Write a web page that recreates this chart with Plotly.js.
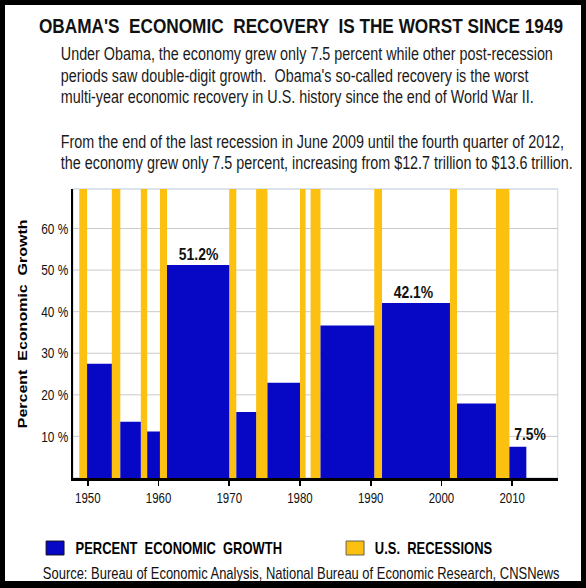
<!DOCTYPE html>
<html>
<head>
<meta charset="utf-8">
<script src="https://cdn.plot.ly/plotly-3.0.1.min.js"></script>
<style>
  html, body { margin: 0; padding: 0; background: #000; width: 586px; height: 588px; overflow: hidden; }
  #wrap { position: absolute; left: 5px; top: 5px; width: 576px; height: 576px; background: #fff; overflow: hidden; }
  #chart { position: absolute; left: 0; top: 0; transform-origin: 0 0; }
</style>
</head>
<body>
<div id="wrap"><div id="chart"></div></div>
<script>
// ---- data ----
const growthStart = [1949.9, 1954.6, 1958.4, 1961.2, 1971.0, 1975.4, 1982.9, 1991.6, 2002.2, 2009.6];
const growthEnd   = [1953.4, 1957.5, 1960.2, 1970.0, 1973.8, 1980.0, 1990.5, 2001.2, 2007.7, 2012.0];
const growthPct   = [27.5, 13.5, 11.2, 51.2, 15.9, 22.9, 36.7, 42.1, 17.9, 7.5];

const recessionStart = [1948.8, 1953.4, 1957.5, 1960.2, 1970.0, 1973.8, 1980.0, 1981.5, 1990.5, 2001.2, 2007.7];
const recessionEnd   = [1949.9, 1954.6, 1958.4, 1961.2, 1971.0, 1975.4, 1980.8, 1982.9, 1991.6, 2002.2, 2009.6];

const labelledIdx  = [3, 7, 9];
const labelledText = ['51.2%', '42.1%', '7.5%'];

const xTickVals = [1950, 1960, 1970, 1980, 1990, 2000, 2010];
const yTickVals = [10, 20, 30, 40, 50, 60];
const yTickText = ['10 %', '20 %', '30 %', '40 %', '50 %', '60 %'];

const titleText = "OBAMA'S  ECONOMIC  RECOVERY  IS THE WORST SINCE 1949";
const bodyLines = [
  "Under Obama, the economy grew only 7.5 percent while other post-recession",
  "periods saw double-digit growth.  Obama's so-called recovery is the worst",
  "multi-year economic recovery in U.S. history since the end of World War II.",
  "From the end of the last recession in June 2009 until the fourth quarter of 2012,",
  "the economy grew only 7.5 percent, increasing from $12.7 trillion to $13.6 trillion."
];
const legendNames = ["PERCENT  ECONOMIC  GROWTH", "U.S.  RECESSIONS"];
const sourceText = "Source: Bureau of Economic Analysis, National Bureau of Economic Research, CNSNews";

// ---- layout geometry (the original picture is horizontally condensed) ----
const S = 0.82;                       // horizontal squeeze
const H = 576, W = Math.round(576 / S);
const M = {l: 68 / S, r: 23 / S, t: 184, b: 103};
const PW = W - M.l - M.r, PH = H - M.t - M.b;
const px = x => (x / S - M.l) / PW;   // visible px -> paper x
const py = y => (H - M.b - y) / PH;   // visible px -> paper y
const yTop = 69.5;

const FONT = "Liberation Sans, Arial, sans-serif";
const BLUE = '#0707c6';
const GOLD = '#fcc010';

const mid = (a, b) => a.map((v, i) => (v + b[i]) / 2);
const span = (a, b) => a.map((v, i) => b[i] - v);

const recessionTrace = {
  type: 'bar',
  name: legendNames[1],
  x: mid(recessionStart, recessionEnd),
  width: span(recessionStart, recessionEnd),
  y: recessionStart.map(() => yTop),
  marker: {color: GOLD, line: {width: 0}},
  hoverinfo: 'skip',
  showlegend: false
};
const growthTrace = {
  type: 'bar',
  name: legendNames[0],
  x: mid(growthStart, growthEnd),
  width: span(growthStart, growthEnd),
  y: growthPct,
  marker: {color: BLUE, line: {width: 0}},
  showlegend: false
};

const annotations = [];
const centers = mid(growthStart, growthEnd);
const lblShift = [0, -3, 12];
const lblYShift = [-1, -1, 1];
labelledIdx.forEach((k, j) => {
  annotations.push({
    x: centers[k], y: growthPct[k], xref: 'x', yref: 'y',
    text: '<b>' + labelledText[j] + '</b>', showarrow: false,
    xanchor: 'center', yanchor: 'bottom', yshift: lblYShift[j], xshift: lblShift[j] / S,
    font: {family: FONT, size: 17, color: '#111'}
  });
});
const lineY = [49, 71, 92.5, 137, 158];
bodyLines.forEach((t, i) => {
  annotations.push({
    xref: 'paper', yref: 'paper', x: px(54), y: py(lineY[i]),
    xanchor: 'left', yanchor: 'middle', showarrow: false, text: t,
    font: {family: FONT, size: 17.5, color: '#1a1a1a'}
  });
});
annotations.push({
  xref: 'paper', yref: 'paper', x: px(17), y: py(318.5),
  xanchor: 'center', yanchor: 'middle', textangle: -90, showarrow: false,
  text: '<b>Percent  Economic  Growth</b>',
  font: {family: FONT, size: 16, color: '#000'}
});
annotations.push({
  xref: 'paper', yref: 'paper', x: px(69), y: py(543),
  xanchor: 'left', yanchor: 'middle', showarrow: false,
  text: '<b>' + legendNames[0] + '</b>', font: {family: FONT, size: 15.8, color: '#000'}
});
annotations.push({
  xref: 'paper', yref: 'paper', x: px(368), y: py(543),
  xanchor: 'left', yanchor: 'middle', showarrow: false,
  text: '<b>' + legendNames[1] + '</b>', font: {family: FONT, size: 15.8, color: '#000'}
});
annotations.push({
  xref: 'paper', yref: 'paper', x: px(37), y: py(568),
  xanchor: 'left', yanchor: 'middle', showarrow: false, borderpad: 0,
  text: sourceText, font: {family: FONT, size: 15.8, color: '#111'}
});

const shapes = [
  {type: 'rect', xref: 'paper', yref: 'paper', x0: 0, x1: 1, y0: 0, y1: 1,
   line: {color: '#cfdbe8', width: 1.5}, layer: 'below'},
  {type: 'rect', xref: 'paper', yref: 'paper', x0: px(41), x1: px(59), y0: py(536), y1: py(550),
   fillcolor: BLUE, line: {color: '#111', width: 1}},
  {type: 'rect', xref: 'paper', yref: 'paper', x0: px(341), x1: px(359), y0: py(536), y1: py(550),
   fillcolor: GOLD, line: {color: '#555', width: 1}}
];

const layout = {
  width: W, height: H,
  margin: M,
  paper_bgcolor: '#fff', plot_bgcolor: '#fff',
  barmode: 'overlay',
  showlegend: false,
  title: {
    text: '<b>' + titleText + '</b>', xref: 'container', yref: 'container',
    x: (296 / S) / W, y: 1 - 20.5 / H, xanchor: 'center', yanchor: 'middle',
    font: {family: FONT, size: 21, color: '#111'}
  },
  xaxis: {
    range: [1947.92, 2016.43], tickvals: xTickVals, ticktext: xTickVals.map(String),
    showgrid: false, zeroline: false, showline: true, linecolor: '#000', linewidth: 3,
    ticks: 'outside', ticklen: 5, tickwidth: 2, tickcolor: '#000',
    tickfont: {family: FONT, size: 14, color: '#111'}, fixedrange: true
  },
  yaxis: {
    range: [0, yTop], tickvals: yTickVals, ticktext: yTickText,
    showgrid: true, gridcolor: '#c4c4c4', gridwidth: 1, zeroline: false,
    showline: true, linecolor: '#000', linewidth: 3, ticks: '',
    tickfont: {family: FONT, size: 14.5, color: '#111'}, fixedrange: true
  },
  annotations: annotations,
  shapes: shapes
};

const el = document.getElementById('chart');
el.style.width = W + 'px';
el.style.height = H + 'px';
el.style.transform = 'scaleX(' + S + ')';
Plotly.newPlot(el, [recessionTrace, growthTrace], layout, {displayModeBar: false, staticPlot: true});
</script>
</body>
</html>
